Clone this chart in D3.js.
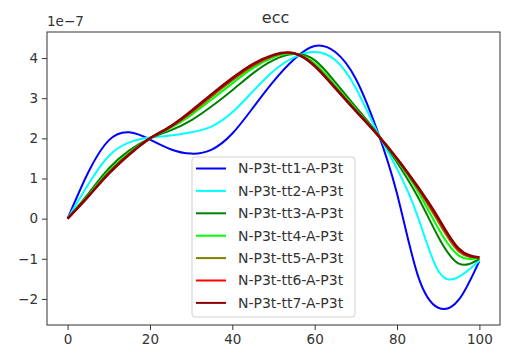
<!DOCTYPE html>
<html>
<head>
<meta charset="utf-8">
<script src="https://cdn.jsdelivr.net/npm/d3@7"></script>
<style>
  body { margin: 0; background: #fff; }
  svg { font-family: "DejaVu Sans", sans-serif; }
</style>
</head>
<body>
<div id="chart"></div>
<script>
// sample positions along x
const xs = [0, 5, 10, 15, 20, 25, 30, 35, 40, 45, 50, 55, 60, 65, 70, 75, 80, 85, 90, 95, 100];

// series values, in units of 1e-7
const tt1 = [0, 1.15, 1.95, 2.15, 1.97, 1.73, 1.62, 1.72, 2.12, 2.76, 3.42, 3.97, 4.3, 4.15, 3.48, 2.25, 0.62, -1.4, -2.22, -2.02, -1.05];
const tt2 = [0, 0.85, 1.56, 1.9, 2.02, 2.07, 2.15, 2.3, 2.65, 3.17, 3.68, 4.02, 4.15, 3.95, 3.25, 2.2, 1.24, 0.06, -1.3, -1.45, -1.05];
const tt3 = [0, 0.62, 1.25, 1.7, 2.0, 2.2, 2.45, 2.8, 3.2, 3.62, 3.95, 4.1, 3.95, 3.4, 2.78, 2.15, 1.4, 0.55, -0.45, -1.12, -1.0];
const tt4 = [0, 0.58, 1.18, 1.65, 2.0, 2.26, 2.58, 2.97, 3.37, 3.75, 4.02, 4.11, 3.87, 3.32, 2.73, 2.13, 1.46, 0.69, -0.24, -0.92, -0.98];
const tt5 = [0, 0.56, 1.15, 1.62, 2.0, 2.28, 2.63, 3.04, 3.44, 3.8, 4.05, 4.12, 3.83, 3.28, 2.7, 2.13, 1.48, 0.75, -0.08, -0.82, -0.97];
const tt6 = [0, 0.555, 1.13, 1.61, 2.0, 2.29, 2.66, 3.08, 3.48, 3.83, 4.07, 4.12, 3.81, 3.26, 2.69, 2.12, 1.49, 0.78, -0.02, -0.78, -0.97];
const tt7 = [0, 0.55, 1.12, 1.6, 2.0, 2.3, 2.68, 3.1, 3.5, 3.85, 4.08, 4.12, 3.8, 3.25, 2.68, 2.12, 1.5, 0.8, 0.02, -0.75, -0.97];

const labels = ["N-P3t-tt1-A-P3t", "N-P3t-tt2-A-P3t", "N-P3t-tt3-A-P3t", "N-P3t-tt4-A-P3t",
                "N-P3t-tt5-A-P3t", "N-P3t-tt6-A-P3t", "N-P3t-tt7-A-P3t"];
const colors = ["#0000ff", "#00ffff", "#008000", "#00ff00", "#808000", "#ff0000", "#8b0000"];
const xTicks = [0, 20, 40, 60, 80, 100];
const yTicks = [-2, -1, 0, 1, 2, 3, 4];

const allSeries = [tt1, tt2, tt3, tt4, tt5, tt6, tt7];

const W = 510, H = 354;
const margin = { top: 32, right: 10, bottom: 29, left: 47 };
const width = W - margin.left - margin.right;
const height = H - margin.top - margin.bottom;

const svg = d3.select("#chart").append("svg")
  .attr("width", W)
  .attr("height", H);

const g = svg.append("g")
  .attr("transform", `translate(${margin.left},${margin.top})`);

const x = d3.scaleLinear().domain([-5, 105]).range([0, width]);
const y = d3.scaleLinear().domain([-2.65, 4.65]).range([height, 0]);

// axes
const xAxis = g.append("g")
  .attr("transform", `translate(0,${height})`)
  .call(d3.axisBottom(x).tickValues(xTicks).tickSize(5).tickPadding(4).tickFormat(d3.format("d")));
const yAxis = g.append("g")
  .call(d3.axisLeft(y).tickValues(yTicks).tickSize(5).tickPadding(4)
    .tickFormat(d => d < 0 ? "\u2212" + Math.abs(d) : d));

[xAxis, yAxis].forEach(a => {
  a.select(".domain").remove();
  a.selectAll("line").attr("stroke", "#333");
  a.selectAll("text").attr("fill", "#333").style("font-size", "13.5px")
    .style("font-family", "DejaVu Sans, sans-serif");
});

// lines
const line = d3.line()
  .x((d, i) => x(xs[i]))
  .y(d => y(d))
  .curve(d3.curveNatural);

g.append("clipPath").attr("id", "clip")
  .append("rect").attr("width", width).attr("height", height);

g.append("g").attr("clip-path", "url(#clip)")
  .selectAll("path")
  .data(allSeries)
  .enter()
  .append("path")
  .attr("d", d => line(d))
  .attr("fill", "none")
  .attr("stroke", (d, i) => colors[i])
  .attr("stroke-width", (d, i) => i === 6 ? 2.6 : 2)
  .attr("stroke-linejoin", "round");

// frame
g.append("rect")
  .attr("width", width)
  .attr("height", height)
  .attr("fill", "none")
  .attr("stroke", "#333")
  .attr("stroke-width", 1);

// title and offset label
svg.append("text")
  .attr("x", margin.left + width / 2 + 2)
  .attr("y", 23)
  .attr("text-anchor", "middle")
  .style("font-size", "16px")
  .attr("fill", "#333")
  .text("ecc");

svg.append("text")
  .attr("x", margin.left)
  .attr("y", 26)
  .style("font-size", "13.5px")
  .attr("fill", "#333")
  .text("1e\u22127");

// legend
const legend = g.append("g").attr("transform", "translate(145,125)");
legend.append("rect")
  .attr("width", 163)
  .attr("height", 160)
  .attr("rx", 3)
  .attr("fill", "#fff")
  .attr("fill-opacity", 0.8)
  .attr("stroke", "#d0d0d0");

labels.forEach((lab, i) => {
  const row = legend.append("g").attr("transform", `translate(0,${11.5 + i * 22.4})`);
  row.append("line")
    .attr("x1", 4).attr("x2", 34)
    .attr("stroke", colors[i])
    .attr("stroke-width", 2);
  row.append("text")
    .attr("x", 46)
    .attr("dy", "0.35em")
    .style("font-size", "14px")
    .attr("fill", "#333")
    .text(lab);
});
</script>
</body>
</html>
